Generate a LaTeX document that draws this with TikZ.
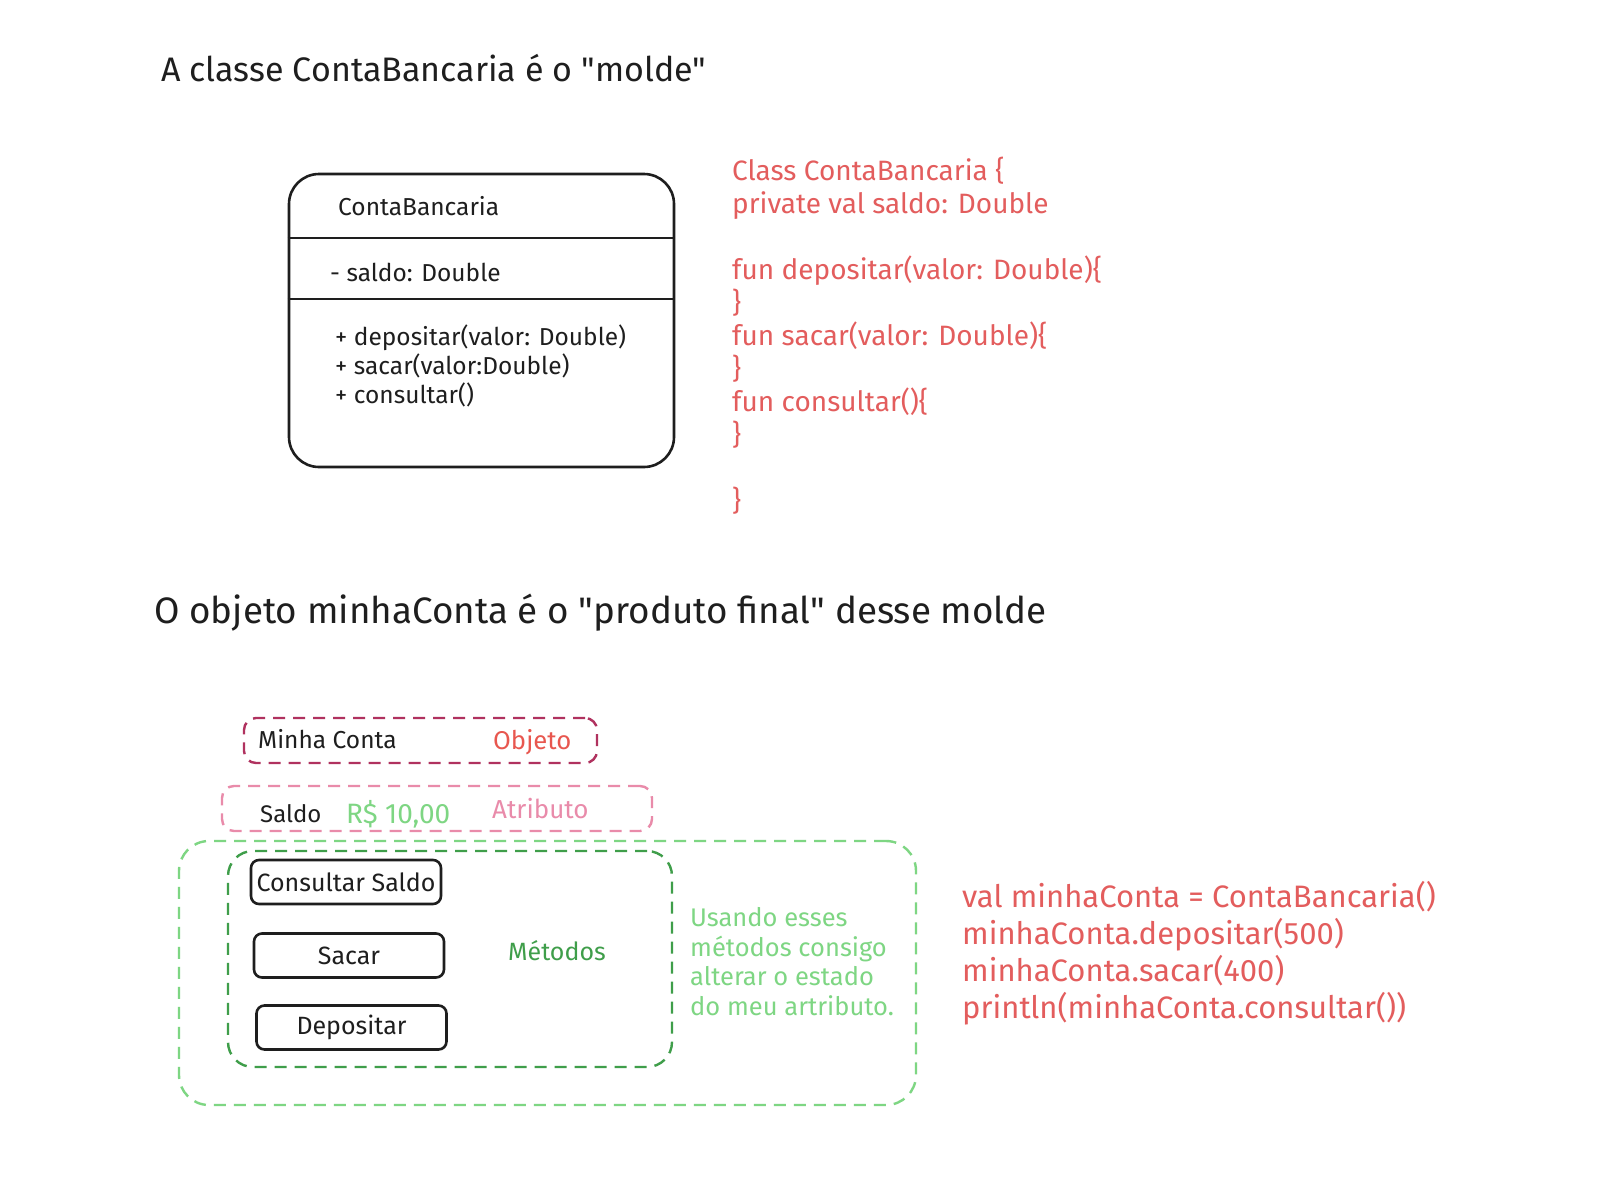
\documentclass[tikz,border=0pt]{standalone}
\usepackage{fontspec}
\setmainfont{Fira Sans}
\definecolor{codered}{HTML}{E35D5D}
\definecolor{objred}{HTML}{E8574F}
\definecolor{darkpink}{HTML}{B0325F}
\definecolor{lightpink}{HTML}{E98BAA}
\definecolor{lightgreen}{HTML}{7ED683}
\definecolor{darkgreen}{HTML}{3F9E4A}
\definecolor{ink}{HTML}{1E1E1E}
\tikzset{
  lbl/.style={anchor=west, inner sep=0pt, text=ink},
  dashbox/.style={draw, line width=2.4pt, dash pattern=on 12pt off 8pt, rounded corners=12pt},
  btn/.style={draw=ink, line width=2.6pt, rounded corners=8pt, minimum width=190pt, minimum height=44pt, inner sep=0pt, text=ink, font=\fontsize{25}{30}\selectfont},
}
\begin{document}
\begin{tikzpicture}[x=1pt,y=-1pt]
\useasboundingbox[fill=white] (0,0) rectangle (1608,1178);

% Title 1
\node[lbl, font=\fontsize{34}{42}\selectfont] (t1) at (161,68) {A classe ContaBancaria é o \textquotedbl molde\textquotedbl};

% Class box
\node[draw=ink, line width=2.6pt, rounded corners=30pt, minimum width=385pt, minimum height=293pt] (cls) at (481.5,320.5) {};
\draw[ink, line width=2.6pt] (cls.west |- 0,238) -- (cls.east |- 0,238);
\draw[ink, line width=1.6pt] (cls.west |- 0,299) -- (cls.east |- 0,299);
\node[lbl, font=\fontsize{24.5}{29}\selectfont] (cname) at (338,206) {ContaBancaria};
\node[lbl, font=\fontsize{24.5}{29}\selectfont] (cattr) at (330,272) {- saldo: Double};
\node[lbl, anchor=north west, align=left, font=\fontsize{24.5}{29}\selectfont] (cmeth) at (335,325) {+ depositar(valor: Double)\\+ sacar(valor:Double)\\+ consultar()};

% Red code
\node[lbl, anchor=north west, align=left, text=codered, font=\fontsize{28}{33}\selectfont] (code1) at (732,157)
{Class ContaBancaria \{\\private val saldo: Double\\\mbox{}\\fun depositar(valor: Double)\{\\\}\\fun sacar(valor: Double)\{\\\}\\fun consultar()\{\\\}\\\mbox{}\\\}};

% Title 2
\node[lbl, font=\fontsize{36.8}{46}\selectfont] (t2) at (154,613) {O objeto minhaConta é o \textquotedbl produto final\textquotedbl{} desse molde};

% Object box
\node[dashbox, draw=darkpink, minimum width=353pt, minimum height=45pt] (mc) at (420.5,740.5) {};
\node[lbl, font=\fontsize{24.5}{30}\selectfont] (mctxt) at (258,739) {Minha Conta};
\node[lbl, text=objred, font=\fontsize{25.7}{30}\selectfont] (obj) at (493,742) {Objeto};

% Attribute box
\node[dashbox, draw=lightpink, minimum width=430pt, minimum height=45pt] (sb) at (437,808.5) {};
\node[lbl, font=\fontsize{24}{30}\selectfont] (saldo) at (260,814) {Saldo};
\node[lbl, text=lightgreen, font=\fontsize{28}{32}\selectfont] (val) at (346,814) {R\$ 10,00};
\node[lbl, text=lightpink, font=\fontsize{26}{30}\selectfont] (atr) at (492,809) {Atributo};

% Methods
\node[dashbox, draw=lightgreen, rounded corners=30pt, minimum width=737pt, minimum height=264pt] (outer) at (547.5,973) {};
\node[dashbox, draw=darkgreen, rounded corners=25pt, minimum width=444pt, minimum height=216pt] (inner) at (450,959) {};
\node[btn] (b1) at (346,882) {Consultar Saldo};
\node[btn] (b2) at (349,955.5) {Sacar};
\node[btn] (b3) at (351.5,1027.5) {Depositar};
\node[lbl, text=darkgreen, font=\fontsize{25}{30}\selectfont] (met) at (508,951) {Métodos};
\node[lbl, anchor=north west, align=left, text=lightgreen, font=\fontsize{25.5}{29.7}\selectfont] (note) at (690,907)
{Usando esses\\métodos consigo\\alterar o estado\\do meu artributo.};

% Right code
\node[lbl, anchor=north west, align=left, text=codered, font=\fontsize{31}{37}\selectfont] (code2) at (962,881)
{val minhaConta = ContaBancaria()\\minhaConta.depositar(500)\\minhaConta.sacar(400)\\println(minhaConta.consultar())};
\end{tikzpicture}
\end{document}
